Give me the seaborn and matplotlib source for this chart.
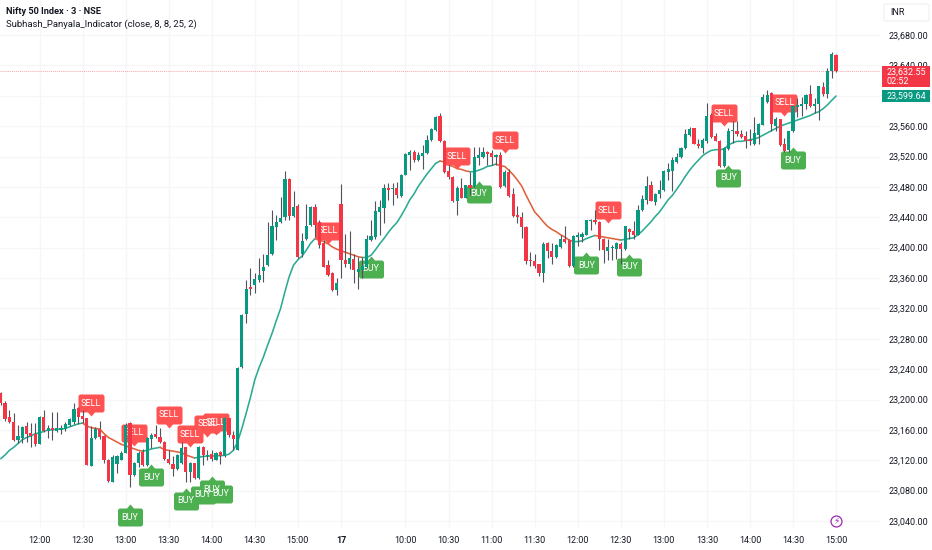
import matplotlib
matplotlib.use('Agg')
import matplotlib.pyplot as plt
import matplotlib.transforms as mtransforms
from matplotlib.patches import Rectangle, FancyBboxPatch
import numpy as np
import pandas as pd
import seaborn as sns

# bar number 0 is 12:00 of the first session, one bar = 3 minutes
first_bar = -9

opens = [
    23208, 23195, 23177, 23171, 23147, 23149, 23165, 23156, 23154, 23141,
    23177, 23158, 23162, 23159, 23160, 23161, 23166, 23171, 23189, 23178,
    23175, 23113, 23149, 23161, 23152, 23121, 23092, 23115, 23121, 23130,
    23169, 23100, 23116, 23131, 23114, 23148, 23155, 23150, 23144, 23122,
    23115, 23108, 23116, 23137, 23104, 23116, 23096, 23137, 23125, 23128,
    23121, 23131, 23125, 23175, 23153, 23134, 23243, 23313, 23348, 23351,
    23358, 23369, 23377, 23391, 23427, 23434, 23441, 23491, 23442, 23455,
    23392, 23411, 23430, 23453, 23434, 23406, 23377, 23367, 23344, 23458,
    23384, 23378, 23385, 23368, 23371, 23375, 23410, 23414, 23447, 23452,
    23479, 23477, 23479, 23468, 23496, 23522, 23526, 23515, 23521, 23524,
    23542, 23555, 23573, 23541, 23501, 23493, 23461, 23478, 23466, 23482,
    23481, 23518, 23519, 23526, 23524, 23520, 23522, 23481, 23499, 23470,
    23443, 23441, 23427, 23384, 23383, 23378, 23367, 23406, 23396, 23388,
    23401, 23412, 23410, 23376, 23414, 23414, 23417, 23435, 23437, 23434,
    23412, 23396, 23399, 23398, 23405, 23398, 23425, 23422, 23417, 23449,
    23463, 23482, 23460, 23471, 23476, 23500, 23501, 23513, 23519, 23531,
    23548, 23557, 23537, 23531, 23540, 23575, 23547, 23541, 23507, 23530,
    23553, 23554, 23550, 23547, 23542, 23537, 23548, 23561, 23592, 23603,
    23560, 23569, 23536, 23528, 23553, 23585, 23586, 23589, 23602, 23586,
    23589, 23612, 23602, 23632, 23654,
]
highs = [
    23210, 23198, 23186, 23182, 23166, 23165, 23170, 23169, 23169, 23178,
    23186, 23166, 23184, 23184, 23166, 23170, 23176, 23195, 23190, 23186,
    23176, 23165, 23164, 23172, 23153, 23122, 23127, 23127, 23132, 23169,
    23171, 23118, 23132, 23135, 23150, 23156, 23166, 23162, 23146, 23133,
    23125, 23128, 23144, 23138, 23118, 23117, 23139, 23139, 23133, 23133,
    23131, 23132, 23177, 23176, 23159, 23243, 23312, 23357, 23373, 23366,
    23386, 23392, 23434, 23450, 23443, 23467, 23501, 23492, 23475, 23457,
    23419, 23457, 23455, 23458, 23436, 23410, 23384, 23368, 23360, 23484,
    23418, 23422, 23392, 23388, 23388, 23417, 23436, 23461, 23463, 23484,
    23485, 23485, 23487, 23497, 23524, 23529, 23528, 23526, 23535, 23548,
    23557, 23574, 23577, 23542, 23509, 23494, 23481, 23492, 23483, 23500,
    23532, 23532, 23532, 23527, 23529, 23523, 23526, 23502, 23504, 23478,
    23455, 23447, 23428, 23394, 23392, 23379, 23408, 23407, 23406, 23405,
    23417, 23428, 23411, 23416, 23421, 23421, 23437, 23438, 23450, 23435,
    23413, 23412, 23403, 23408, 23407, 23429, 23426, 23435, 23456, 23469,
    23494, 23488, 23472, 23489, 23502, 23511, 23519, 23524, 23533, 23556,
    23559, 23558, 23543, 23544, 23591, 23577, 23551, 23542, 23532, 23557,
    23567, 23567, 23555, 23553, 23556, 23572, 23564, 23602, 23608, 23605,
    23572, 23570, 23545, 23554, 23588, 23597, 23599, 23602, 23614, 23597,
    23613, 23618, 23636, 23657, 23655,
]
lows = [
    23193, 23172, 23169, 23146, 23143, 23143, 23144, 23137, 23139, 23141,
    23157, 23149, 23147, 23157, 23155, 23159, 23165, 23168, 23168, 23169,
    23114, 23112, 23148, 23148, 23117, 23092, 23091, 23103, 23120, 23129,
    23085, 23099, 23111, 23112, 23113, 23136, 23149, 23143, 23121, 23115,
    23099, 23107, 23115, 23092, 23092, 23095, 23095, 23114, 23121, 23119,
    23120, 23115, 23124, 23151, 23133, 23133, 23242, 23301, 23338, 23340,
    23355, 23355, 23376, 23390, 23410, 23432, 23437, 23436, 23441, 23387,
    23388, 23410, 23429, 23414, 23399, 23374, 23363, 23343, 23338, 23360,
    23375, 23372, 23354, 23345, 23360, 23373, 23409, 23412, 23417, 23432,
    23463, 23456, 23465, 23467, 23495, 23502, 23513, 23514, 23504, 23523,
    23541, 23554, 23539, 23498, 23491, 23460, 23443, 23465, 23465, 23469,
    23480, 23509, 23518, 23509, 23509, 23509, 23479, 23480, 23467, 23441,
    23432, 23413, 23379, 23376, 23373, 23362, 23355, 23386, 23379, 23387,
    23399, 23406, 23375, 23375, 23402, 23408, 23416, 23423, 23431, 23397,
    23380, 23384, 23384, 23385, 23379, 23397, 23412, 23412, 23416, 23448,
    23457, 23461, 23456, 23466, 23474, 23489, 23475, 23511, 23518, 23530,
    23547, 23536, 23531, 23524, 23538, 23545, 23540, 23506, 23506, 23529,
    23538, 23547, 23545, 23531, 23535, 23535, 23537, 23561, 23590, 23553,
    23553, 23534, 23526, 23526, 23552, 23572, 23573, 23583, 23585, 23577,
    23568, 23600, 23597, 23624, 23631,
]
closes = [
    23195, 23174, 23171, 23147, 23152, 23164, 23155, 23152, 23142, 23177,
    23158, 23163, 23160, 23163, 23162, 23168, 23174, 23187, 23177, 23174,
    23114, 23149, 23161, 23151, 23121, 23093, 23124, 23125, 23130, 23166,
    23100, 23117, 23130, 23114, 23149, 23153, 23150, 23144, 23122, 23116,
    23109, 23127, 23136, 23105, 23117, 23096, 23138, 23127, 23127, 23122,
    23130, 23126, 23176, 23153, 23148, 23242, 23311, 23345, 23346, 23359,
    23364, 23374, 23390, 23428, 23434, 23439, 23490, 23442, 23453, 23388,
    23409, 23428, 23453, 23430, 23403, 23375, 23364, 23344, 23354, 23384,
    23378, 23386, 23370, 23372, 23376, 23412, 23415, 23448, 23453, 23479,
    23476, 23479, 23469, 23496, 23523, 23526, 23515, 23522, 23525, 23542,
    23556, 23572, 23540, 23499, 23493, 23461, 23478, 23466, 23482, 23479,
    23519, 23522, 23526, 23523, 23520, 23522, 23480, 23499, 23468, 23442,
    23441, 23427, 23383, 23382, 23376, 23367, 23405, 23395, 23388, 23403,
    23412, 23408, 23376, 23415, 23417, 23418, 23436, 23437, 23434, 23411,
    23397, 23401, 23401, 23406, 23398, 23428, 23421, 23417, 23449, 23464,
    23481, 23462, 23471, 23476, 23501, 23503, 23515, 23519, 23531, 23550,
    23556, 23537, 23534, 23542, 23573, 23546, 23541, 23507, 23531, 23554,
    23555, 23549, 23546, 23540, 23540, 23551, 23563, 23599, 23601, 23563,
    23569, 23535, 23527, 23553, 23586, 23588, 23589, 23601, 23586, 23589,
    23613, 23602, 23632, 23655, 23632.55,
]
ma_values = [
    23122, 23127, 23133, 23137, 23142, 23147, 23150, 23152, 23155, 23156,
    23158, 23160, 23160, 23161, 23161, 23162, 23164, 23166, 23168, 23169,
    23165, 23163, 23162, 23161, 23155, 23150, 23147, 23144, 23141, 23139,
    23137, 23135, 23133, 23132, 23133, 23135, 23136, 23137, 23134, 23133,
    23132, 23131, 23130, 23127, 23125, 23123, 23124, 23125, 23125.5, 23125.5,
    23126, 23126, 23126.5, 23128, 23133, 23144, 23162, 23182, 23203, 23226,
    23242, 23256, 23272, 23287, 23304, 23320, 23342, 23362, 23377, 23384,
    23389, 23397, 23406, 23412, 23410, 23408, 23405, 23401, 23398, 23396,
    23394, 23392, 23390, 23388, 23387, 23387, 23390, 23397, 23405, 23412,
    23420, 23427, 23433, 23442, 23452, 23463, 23471, 23481, 23489, 23497,
    23504, 23511, 23514, 23513, 23509, 23507, 23504, 23503, 23501, 23500,
    23500, 23502, 23504, 23507, 23508, 23510, 23508, 23507, 23502, 23496,
    23489, 23481, 23469, 23458, 23447, 23441, 23434, 23428, 23424, 23421,
    23417, 23414, 23410, 23408, 23408, 23409, 23412, 23414, 23416, 23415,
    23414, 23413, 23412, 23411, 23410, 23411, 23412, 23413, 23417, 23422,
    23428, 23434, 23441, 23447, 23455, 23463, 23469, 23477, 23485, 23494,
    23502, 23509, 23515, 23521, 23525, 23528, 23529, 23529, 23530, 23535,
    23538, 23540, 23540, 23541, 23542, 23543, 23545, 23548, 23551, 23554,
    23557, 23560, 23562, 23564, 23566, 23568, 23570, 23572, 23574, 23577,
    23579, 23583, 23588, 23594, 23599.64,
]

# signal flags: bar number and the price their pointer sits on
sell_bars = [12, 22, 30, 35, 39, 41, 67, 97, 108, 132, 159, 173]
sell_prices = [23178, 23139, 23162.5, 23137, 23151, 23153, 23405, 23503, 23524, 23432, 23560, 23574]
buy_bars = [21, 26, 34, 38, 40, 42, 77, 102, 127, 137, 160, 175]
buy_prices = [23062, 23115, 23084, 23092, 23099, 23093, 23389, 23488, 23394, 23392, 23509, 23532]

tick_bars = [0, 10, 20, 30, 40, 50, 60, 70, 85, 95, 105, 115, 125, 135, 145, 155, 165, 175, 185]
tick_labels = ['12:00', '12:30', '13:00', '13:30', '14:00', '14:30', '15:00', '17',
               '10:00', '10:30', '11:00', '11:30', '12:00', '12:30', '13:00', '13:30',
               '14:00', '14:30', '15:00']
price_ticks = list(range(23040, 23681, 40))

last_price = 23632.55
ma_last = 23599.64
countdown = '02:52'

GREEN = '#089981'
RED = '#f23645'
FLAG_GREEN = '#4caf50'
FLAG_RED = '#ff5252'
LINE_UP = '#2bab94'
LINE_DOWN = '#e0623c'
INK = '#131722'

sns.set_style('white')
plt.rcParams['font.family'] = ['Roboto', 'DejaVu Sans']


def flag_marker(half_w, sign):
    # box with a small pointer, the tip of the pointer is the origin (units are pixels)
    c = 1.5
    low, top = 4 * sign, 22 * sign
    return [(0, 0), (3.5, low), (half_w - c, low), (half_w, low + c * sign), (half_w, top - c * sign),
            (half_w - c, top), (-half_w + c, top), (-half_w, top - c * sign), (-half_w, low + c * sign),
            (-half_w + c, low), (-3.5, low)]


df = pd.DataFrame({'open': opens, 'high': highs, 'low': lows, 'close': closes, 'ma': ma_values})
df['bar'] = np.arange(len(df)) + first_bar

fig = plt.figure(figsize=(9.32, 5.5), dpi=100)
ax = fig.add_axes([0, 22 / 550, 880 / 932, 528 / 550])
ax.set_xlim(-9.175, 195.2)
ax.set_ylim(23030.8, 23726.1)
ax.grid(True, color='#f6f6f8', linewidth=1)
ax.set_axisbelow(True)
sns.despine(ax=ax, left=True, bottom=True)

# moving average, one run per direction
rising = df['ma'].diff().fillna(1) >= 0
run = (rising != rising.shift()).cumsum()
for _, part in df.groupby(run):
    first = part.index[0]
    start = max(first - 1, 0)
    seg = df.loc[start:part.index[-1]]
    sns.lineplot(data=seg, x='bar', y='ma', color=LINE_UP if rising[first] else LINE_DOWN,
                 linewidth=1.15, errorbar=None, ax=ax, zorder=2)

# last price line
ax.axhline(last_price, color=RED, linewidth=0.7, linestyle=(0, (1, 1)), alpha=0.45, zorder=1.8)

# flags go under the candles, all the words above all the boxes
marker_size = (22 * 72 / 100 * 2) ** 2
ax.scatter(sell_bars, sell_prices, marker=flag_marker(13, 1), s=marker_size, color=FLAG_RED, linewidths=0, zorder=3)
ax.scatter(buy_bars, buy_prices, marker=flag_marker(12.5, -1), s=marker_size, color=FLAG_GREEN, linewidths=0, zorder=3)
for bar, price in zip(sell_bars, sell_prices):
    ax.annotate('SELL', xy=(bar, price), xytext=(0, 13), textcoords='offset pixels',
                ha='center', va='center', color='white', fontsize=6.6, zorder=3.5)
for bar, price in zip(buy_bars, buy_prices):
    ax.annotate('BUY', xy=(bar, price), xytext=(0, -13), textcoords='offset pixels',
                ha='center', va='center', color='white', fontsize=6.6, zorder=3.5)

# candles
up = df['close'] >= df['open']
ax.vlines(df['bar'], df['low'], df['high'], color='#50535e', linewidth=0.8, zorder=4)
ax.bar(df['bar'], (df['close'] - df['open']).abs().clip(lower=1.5), bottom=df[['open', 'close']].min(axis=1),
       width=0.74, color=np.where(up, GREEN, RED), linewidth=0, zorder=5)

# axes text
ax.set_xticks(tick_bars)
ax.set_xticklabels(tick_labels, fontsize=6.5, color=INK)
for lab in ax.get_xticklabels():
    if lab.get_text() == '17':
        lab.set_fontweight('bold')
ax.set_yticks(price_ticks)
ax.set_yticklabels([f'{p:,.2f}' for p in price_ticks], fontsize=6.5, color=INK)
ax.yaxis.tick_right()
ax.tick_params(axis='both', length=0)
ax.tick_params(axis='y', pad=6)
ax.tick_params(axis='x', pad=6)
ax.set_xlabel('')
ax.set_ylabel('')

# price tags in the right hand scale
tag_tf = mtransforms.blended_transform_factory(ax.transAxes, ax.transData)
ax.add_patch(Rectangle((1.002, 23611), 0.0545, 28.5, transform=tag_tf, fc=RED, ec='none',
                       clip_on=False, zorder=6))
ax.text(1.0075, last_price - 1, f'{last_price:,.2f}', transform=tag_tf, color='white',
        fontsize=6.5, va='center', clip_on=False, zorder=7)
ax.text(1.0075, last_price - 13.5, countdown, transform=tag_tf, color='white',
        fontsize=6.5, va='center', clip_on=False, zorder=7)
ax.add_patch(Rectangle((1.002, ma_last - 7.3), 0.0545, 14.6, transform=tag_tf, fc=GREEN, ec='none',
                       clip_on=False, zorder=6))
ax.text(1.0075, ma_last, f'{ma_last:,.2f}', transform=tag_tf, color='white',
        fontsize=6.5, va='center', clip_on=False, zorder=7)

# currency box, title lines and the icon
fig.add_artist(FancyBboxPatch((884 / 932, 1 - 21 / 550), 45 / 932, 17 / 550,
                              boxstyle='round,pad=0,rounding_size=0.003', transform=fig.transFigure,
                              fc='white', ec='#eeeff2', linewidth=0.8))
fig.text(890 / 932, 1 - 12.5 / 550, 'INR', fontsize=6.5, color=INK, va='center')
fig.text(6 / 932, 1 - 12 / 550, 'Nifty 50 Index · 3 · NSE', fontsize=6.7, fontweight='bold', color=INK, va='center')
fig.text(6 / 932, 1 - 24 / 550, 'Subhash_Panyala_Indicator (close, 8, 8, 25, 2)', fontsize=6.8, color=INK, va='center')

ax.scatter([185], [23040], s=62, facecolors='white', edgecolors='#9c27b0', linewidths=0.9, zorder=6)
ax.text(185, 23040, '\u26a1', fontsize=6.5, color='#9c27b0', ha='center', va='center', family='DejaVu Sans', zorder=7)

fig.savefig('out.png', dpi=100)
